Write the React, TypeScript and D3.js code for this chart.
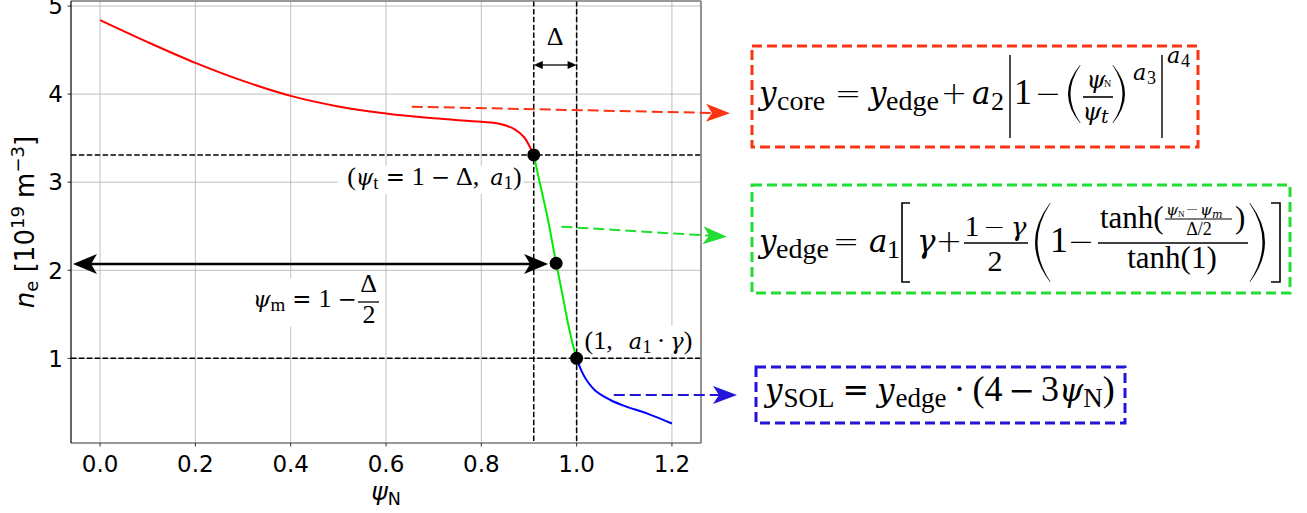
import React from 'react';
import * as d3 from 'd3';

const W = 1307;
const H = 513;

// red: core profile
const corePsi = [0, 0.1, 0.2, 0.3, 0.4, 0.5, 0.6, 0.7, 0.8, 0.84, 0.87, 0.89, 0.9, 0.91];
const coreNe = [4.84, 4.59, 4.355, 4.15, 3.98, 3.86, 3.78, 3.725, 3.685, 3.66, 3.6, 3.51, 3.42, 3.31];
// green: edge (tanh) region
const edgePsi = [0.91, 0.92, 0.93, 0.94, 0.955, 0.97, 0.98, 0.99, 1.0];
const edgeNe = [3.31, 3.06, 2.82, 2.57, 2.14, 1.73, 1.45, 1.2, 1.0];
// blue: SOL
const solPsi = [1.0, 1.01, 1.02, 1.04, 1.07, 1.1, 1.15, 1.2];
const solNe = [1.0, 0.86, 0.76, 0.63, 0.53, 0.46, 0.37, 0.26];

const markerPsi = [0.91, 0.957, 1.0];
const markerNe = [3.31, 2.08, 1.0];

const refNe = [3.31, 1.0];
const refPsi = [0.91, 1.0];

const xTicks = [0, 0.2, 0.4, 0.6, 0.8, 1.0, 1.2];
const yTicks = [1, 2, 3, 4, 5];

const serif = "'Liberation Serif', serif";
const itSerif = "'DejaVu Serif', serif";
const sans = "'DejaVu Sans', sans-serif";

const RED = '#fb3413';
const GREEN = '#22dd33';
const BLUE = '#2214d8';

// arrowhead, tip at (tx,ty) pointing along ang
const head = (tx: number, ty: number, ang: number, len = 24, hw = 9, notch = 6) => {
  const c = Math.cos(ang), s = Math.sin(ang);
  const p = (u: number, v: number) => `${tx + u * c - v * s},${ty + u * s + v * c}`;
  return `M${p(0, 0)}L${p(-len, -hw)}L${p(-len + notch, 0)}L${p(-len, hw)}Z`;
};

const paren = (xl: number, xr: number, top: number, bot: number, side: string, th = 2.2) => {
  const mid = (top + bot) / 2;
  if (side === '(') {
    const c1 = 2 * xl - xr, c2 = 2 * (xl + th) - xr;
    return `M${xr},${top}Q${c1},${mid} ${xr},${bot}L${xr + 0.6},${bot}Q${c2},${mid} ${xr + 0.6},${top}Z`;
  }
  const c1 = 2 * xr - xl, c2 = 2 * (xr - th) - xl;
  return `M${xl},${top}Q${c1},${mid} ${xl},${bot}L${xl - 0.6},${bot}Q${c2},${mid} ${xl - 0.6},${top}Z`;
};

// math piece: i = italic variable, o = operator
const Mt = ({ x, y, s = 36, i = false, o = false, a = 'start', children }: any) => (
  <text
    x={x}
    y={y}
    fontSize={i ? s * 0.86 : o ? s * 0.88 : s}
    fontStyle={i ? 'italic' : 'normal'}
    fontFamily={i ? itSerif : o ? sans : serif}
    fontWeight={o ? 200 : 400}
    textAnchor={a}
  >
    {children}
  </text>
);

const It = ({ s, children, dx, dy }: any) => (
  <tspan fontFamily={itSerif} fontStyle="italic" fontSize={s * 0.86} dx={dx} dy={dy}>
    {children}
  </tspan>
);
const Op = ({ s, children, dx, dy }: any) => (
  <tspan fontFamily={sans} fontSize={s * 0.88} dx={dx} dy={dy}>
    {children}
  </tspan>
);

const DashArrow = ({ x0, y0, tx, ty, color }: any) => {
  const ang = Math.atan2(ty - y0, tx - x0);
  const back = 24 - 6;
  const ex = tx - back * Math.cos(ang), ey = ty - back * Math.sin(ang);
  return (
    <g>
      <line x1={x0} y1={y0} x2={ex} y2={ey} stroke={color} strokeWidth={2} strokeDasharray="11 5" />
      <path d={head(tx, ty, ang, 24, 9, 6)} fill={color} />
    </g>
  );
};

export default function App() {
  const x = d3.scaleLinear().domain([-0.061, 1.261]).range([71, 701]);
  const y = d3.scaleLinear().domain([0.039, 5.057]).range([443, 1]);
  const [x0, x1] = x.range();
  const [y0, y1] = y.range();

  const line = d3.line<[number, number]>().curve(d3.curveCatmullRom.alpha(0.5));
  const pts = (ps: number[], vs: number[]) => ps.map((p, i) => [x(p), y(vs[i])] as [number, number]);

  const arrowY = y(2.07);
  const leftTip = x0 + 2;
  const rightTip = x(markerPsi[1]) - 8;

  const dY = 65;
  const dx0 = x(refPsi[0]);
  const dx1 = x(refPsi[1]);

  const pT = [x(markerPsi[0]), y(markerNe[0])];
  const pE = [x(markerPsi[2]), y(markerNe[2])];
  const S = 26;

  return (
    <svg width={W} height={H} style={{ position: 'absolute', left: 0, top: 0, background: '#fff' }}>
      <rect width={W} height={H} fill="#fff" />
      {/* grid */}
      {xTicks.map((t) => (
        <line key={'gx' + t} x1={x(t)} x2={x(t)} y1={y1} y2={y0} stroke="#b0b0b0" strokeWidth={0.8} />
      ))}
      {yTicks.map((t) => (
        <line key={'gy' + t} x1={x0} x2={x1} y1={y(t)} y2={y(t)} stroke="#b0b0b0" strokeWidth={0.8} />
      ))}

      {/* text boxes with white background */}
      <rect x={pT[0] - 196} y={pT[1] + 11} width={186} height={28} fill="#fff" />
      <rect x={250} y={278} width={132} height={49} fill="#fff" />
      <rect x={pE[0] + 6} y={pE[1] - 33} width={118} height={28} fill="#fff" />

      {/* reference dashed lines */}
      {refNe.map((v) => (
        <line key={'rh' + v} x1={x0} x2={x1} y1={y(v)} y2={y(v)} stroke="#000" strokeWidth={1.5} strokeDasharray="5.5 2.4" />
      ))}
      {refPsi.map((v) => (
        <line key={'rv' + v} x1={x(v)} x2={x(v)} y1={y1} y2={y0} stroke="#000" strokeWidth={1.5} strokeDasharray="5.5 2.4" />
      ))}

      {/* spines */}
      <line x1={x0} x2={x1} y1={y0} y2={y0} stroke="#777" strokeWidth={1.6} />
      <line x1={x0} x2={x1} y1={y1} y2={y1} stroke="#777" strokeWidth={1.6} />
      <line x1={x1} x2={x1} y1={y1} y2={y0} stroke="#777" strokeWidth={1.6} />
      <line x1={x0} x2={x0} y1={y1} y2={y0} stroke="#000" strokeWidth={1.2} />

      {/* ticks */}
      {xTicks.map((t) => (
        <g key={'tx' + t}>
          <line x1={x(t)} x2={x(t)} y1={y0} y2={y0 + 3.5} stroke="#000" strokeWidth={0.8} />
          <text x={x(t)} y={472} fontSize={23} fontFamily={sans} textAnchor="middle">
            {d3.format('.1f')(t)}
          </text>
        </g>
      ))}
      {yTicks.map((t) => (
        <g key={'ty' + t}>
          <line x1={x0 - 3.5} x2={x0} y1={y(t)} y2={y(t)} stroke="#000" strokeWidth={0.8} />
          <text x={63} y={y(t) + 8.3} fontSize={23} fontFamily={sans} textAnchor="end">
            {t}
          </text>
        </g>
      ))}

      {/* axis labels */}
      <text x={(x0 + x1) / 2} y={500} fontSize={25} fontFamily={sans} textAnchor="middle">
        <tspan fontStyle="italic">ψ</tspan>
        <tspan fontSize={17.5} dy={5}>N</tspan>
      </text>
      <text transform={`translate(34,${(y0 + y1) / 2}) rotate(-90)`} fontSize={26} fontFamily={sans} textAnchor="middle" style={{ whiteSpace: 'pre' }}>
        <tspan fontStyle="italic">n</tspan>
        <tspan fontSize={18} dy={4}>e</tspan>
        <tspan dy={-4}>{' [10'}</tspan>
        <tspan fontSize={18} dy={-10}>19</tspan>
        <tspan dy={10}>{' m'}</tspan>
        <tspan fontSize={18} dy={-10}>−3</tspan>
        <tspan dy={10}>]</tspan>
      </text>

      {/* curves */}
      <path d={line(pts(corePsi, coreNe)) || ''} fill="none" stroke="#ff0000" strokeWidth={2} />
      <path d={line(pts(edgePsi, edgeNe)) || ''} fill="none" stroke="#00ee00" strokeWidth={2} />
      <path d={line(pts(solPsi, solNe)) || ''} fill="none" stroke="#0000ff" strokeWidth={2} />

      {/* black double arrow psi_m */}
      <line x1={leftTip + 18} x2={rightTip - 18} y1={arrowY} y2={arrowY} stroke="#000" strokeWidth={2.5} />
      <path d={head(leftTip, arrowY, Math.PI, 24, 10, 6)} fill="#000" />
      <path d={head(rightTip, arrowY, 0, 24, 10, 6)} fill="#000" />

      {/* markers */}
      {markerPsi.map((p, i) => (
        <circle key={'m' + i} cx={x(p)} cy={y(markerNe[i])} r={6.5} fill="#000" />
      ))}

      {/* Delta arrow */}
      <line x1={dx0 + 6} x2={dx1 - 6} y1={dY} y2={dY} stroke="#000" strokeWidth={1.3} />
      <path d={head(dx0, dY, Math.PI, 9, 4, 0)} fill="#000" />
      <path d={head(dx1, dY, 0, 9, 4, 0)} fill="#000" />
      <Mt x={(dx0 + dx1) / 2} y={45} s={26} a="middle">Δ</Mt>

      {/* (psi_t = 1 - Delta, a1) */}
      <text x={pT[0] - 12} y={pT[1] + 30} fontSize={S} fontFamily={serif} textAnchor="end">
        <tspan>(</tspan>
        <It s={S}>ψ</It>
        <tspan fontSize={19} dy={4}>t</tspan>
        <Op s={S} dx={7} dy={-4}>=</Op>
        <tspan dx={7}>1</tspan>
        <Op s={S} dx={6}>−</Op>
        <tspan dx={6}>Δ,</tspan>
        <It s={S} dx={11}>a</It>
        <tspan fontSize={19} dy={4}>1</tspan>
        <tspan dy={-4}>)</tspan>
      </text>

      {/* psi_m = 1 - Delta/2 */}
      <text x={253} y={307} fontSize={S} fontFamily={serif}>
        <It s={S}>ψ</It>
        <tspan fontSize={19} dy={4}>m</tspan>
        <Op s={S} dx={7} dy={-4}>=</Op>
        <tspan dx={7}>1</tspan>
        <Op s={S} dx={6}>−</Op>
      </text>
      <Mt x={368.5} y={292} s={26} a="middle">Δ</Mt>
      <line x1={358} x2={379} y1={302} y2={302} stroke="#000" strokeWidth={1.3} />
      <Mt x={369} y={323} s={26} a="middle">2</Mt>

      {/* (1, a1 . gamma) */}
      <text x={pE[0] + 8} y={pE[1] - 9} fontSize={S} fontFamily={serif}>
        <tspan>(1,</tspan>
        <It s={S} dx={16}>a</It>
        <tspan fontSize={19} dy={4}>1</tspan>
        <tspan dx={5} dy={-4}>·</tspan>
        <It s={S} dx={5}>γ</It>
        <tspan>)</tspan>
      </text>

      {/* annotation arrows */}
      <DashArrow x0={x(0.654)} y0={y(3.857)} tx={730} ty={113.3} color={RED} />
      <DashArrow x0={x(0.968)} y0={y(2.495)} tx={727} ty={236.7} color={GREEN} />
      <DashArrow x0={x(1.078)} y0={y(0.585)} tx={737} ty={395} color={BLUE} />

      {/* formula boxes */}
      <rect x={752} y={46} width={446} height={101} fill="none" stroke={RED} strokeWidth={3} strokeDasharray="10 5" />
      <rect x={752} y={185} width={538} height={108} fill="none" stroke={GREEN} strokeWidth={3} strokeDasharray="10 5" />
      <rect x={756} y={367} width={369} height={56} fill="none" stroke={BLUE} strokeWidth={3} strokeDasharray="10 5" />

      {/* y_core formula */}
      <g>
        <Mt x={759} y={104} i>y</Mt>
        <Mt x={777} y={110} s={28}>core</Mt>
        <Mt x={848} y={104} o a="middle">=</Mt>
        <Mt x={869} y={104} i>y</Mt>
        <Mt x={886} y={110} s={28}>edge</Mt>
        <Mt x={954} y={104} o a="middle">+</Mt>
        <Mt x={972} y={104} i>a</Mt>
        <Mt x={991} y={110} s={26}>2</Mt>
        <line x1={1010} x2={1010} y1={55} y2={138} stroke="#000" strokeWidth={1.4} />
        <Mt x={1023} y={104} a="middle">1</Mt>
        <Mt x={1048} y={104} o a="middle">−</Mt>
        <path d={paren(1068, 1080, 65, 123, '(')} fill="#000" />
        <Mt x={1096} y={88} s={28} i a="middle">ψ</Mt>
        <Mt x={1104} y={87} s={10}>N</Mt>
        <line x1={1083} x2={1113} y1={97} y2={97} stroke="#000" strokeWidth={1.6} />
        <Mt x={1092} y={120} s={28} i a="middle">ψ</Mt>
        <Mt x={1101} y={123} s={22} i>t</Mt>
        <path d={paren(1113, 1125, 65, 123, ')')} fill="#000" />
        <Mt x={1133} y={80} s={26} i>a</Mt>
        <Mt x={1147} y={84} s={18}>3</Mt>
        <line x1={1162} x2={1162} y1={55} y2={138} stroke="#000" strokeWidth={1.4} />
        <Mt x={1167} y={63} s={26} i>a</Mt>
        <Mt x={1181} y={67} s={18}>4</Mt>
      </g>

      {/* y_edge formula */}
      <g>
        <Mt x={759} y={252} i>y</Mt>
        <Mt x={776} y={258} s={28}>edge</Mt>
        <Mt x={846} y={252} o a="middle">=</Mt>
        <Mt x={869} y={252} i>a</Mt>
        <Mt x={887} y={258} s={26}>1</Mt>
        <path d={`M910,203H902V282H910`} fill="none" stroke="#000" strokeWidth={1.6} />
        <Mt x={917} y={252} i>γ</Mt>
        <Mt x={949} y={252} o a="middle">+</Mt>
        <Mt x={972} y={236} s={30} a="middle">1</Mt>
        <Mt x={994} y={236} s={30} o a="middle">−</Mt>
        <Mt x={1011} y={236} s={30} i>γ</Mt>
        <line x1={964} x2={1028} y1={243} y2={243} stroke="#000" strokeWidth={1.6} />
        <Mt x={995} y={271} s={30} a="middle">2</Mt>
        <path d={paren(1035, 1050, 203, 282, '(')} fill="#000" />
        <Mt x={1059} y={252} a="middle">1</Mt>
        <Mt x={1081} y={252} o a="middle">−</Mt>
        <Mt x={1100} y={228} s={31}>tanh(</Mt>
        <Mt x={1166} y={215} s={18} i>ψ</Mt>
        <Mt x={1178} y={217} s={9}>N</Mt>
        <Mt x={1192} y={214} s={18} o a="middle">−</Mt>
        <Mt x={1200} y={215} s={18} i>ψ</Mt>
        <Mt x={1212} y={218} s={13} i>m</Mt>
        <line x1={1165} x2={1232} y1={219} y2={219} stroke="#000" strokeWidth={1.1} />
        <Mt x={1199} y={235} s={18} a="middle">Δ/2</Mt>
        <Mt x={1235} y={228} s={31}>)</Mt>
        <line x1={1098} x2={1248} y1={243} y2={243} stroke="#000" strokeWidth={1.6} />
        <Mt x={1172} y={268} s={31} a="middle">tanh(1)</Mt>
        <path d={paren(1250, 1265, 203, 282, ')')} fill="#000" />
        <path d={`M1271,203H1280V282H1271`} fill="none" stroke="#000" strokeWidth={1.6} />
      </g>

      {/* y_SOL formula */}
      <text x={765} y={401} fontSize={36} fontFamily={serif}>
        <It s={36}>y</It>
        <tspan fontSize={27} dy={6} dx={1}>SOL</tspan>
        <Op s={36} dy={-6} dx={8}>=</Op>
        <It s={36} dx={8}>y</It>
        <tspan fontSize={27} dy={6} dx={1}>edge</tspan>
        <tspan dy={-6} dx={7}>·</tspan>
        <tspan dx={7}>(4</tspan>
        <Op s={36} dx={6}>−</Op>
        <tspan dx={6}>3</tspan>
        <It s={36}>ψ</It>
        <tspan fontSize={27} dy={6}>N</tspan>
        <tspan dy={-6}>)</tspan>
      </text>
    </svg>
  );
}
